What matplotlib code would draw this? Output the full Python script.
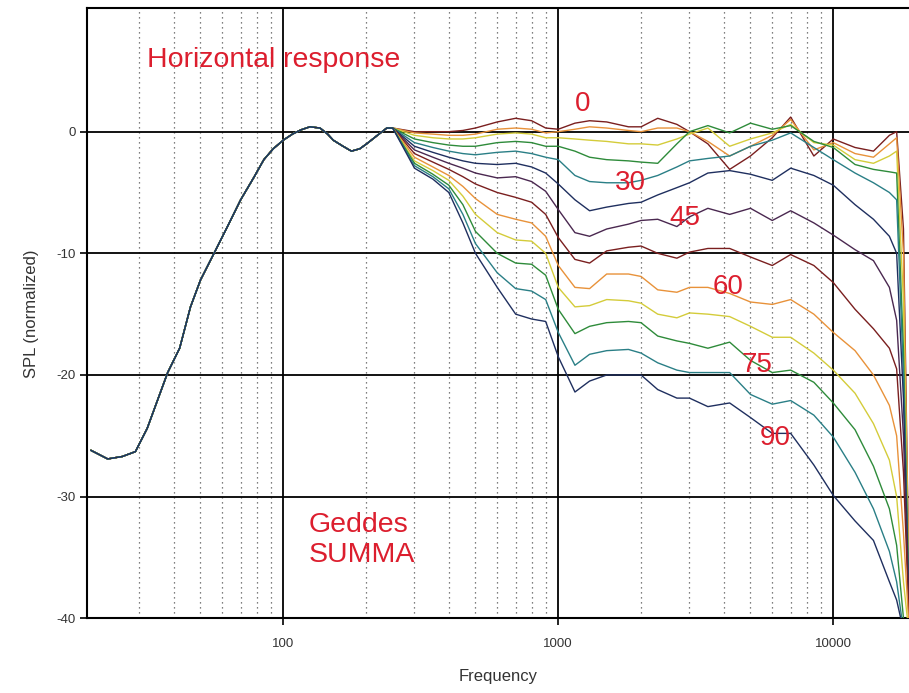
import matplotlib
matplotlib.use('Agg')
import matplotlib.pyplot as plt
import numpy as np
from matplotlib.ticker import FixedLocator, NullFormatter

plt.rcParams['font.family'] = ['Liberation Sans', 'DejaVu Sans']
plt.rcParams['axes.unicode_minus'] = False

# common low-frequency part (all angles identical below ~250 Hz)
LOW_FREQ = [20, 23, 26, 29, 32, 35, 38, 42, 46, 50, 56, 63, 70, 78, 85, 92,
            100, 108, 116, 125, 136, 145, 152, 165, 177, 190, 201, 220, 238]
LOW_SPL = [-26.2, -26.9, -26.7, -26.3, -24.4, -22.0, -19.8, -17.8, -14.4, -12.2,
           -10.0, -7.7, -5.6, -3.8, -2.3, -1.4, -0.7, -0.2, 0.15, 0.4, 0.3,
           -0.2, -0.7, -1.2, -1.6, -1.4, -1.0, -0.3, 0.3]

# off-axis part, one list per angle
HIGH_FREQ = [250, 300, 350, 400, 450, 500, 600, 700, 800, 900, 1000, 1150, 1300,
             1500, 1800, 2000, 2300, 2700, 3000, 3500, 4200, 5000, 6000, 7000,
             8500, 10000, 12000, 14000, 16000, 17000, 18000, 19000]

SPL_00 = [0.3, 0.0, 0.0, 0.0, 0.1, 0.3, 0.8, 1.1, 0.9, 0.3, 0.2, 0.7, 0.9, 0.8, 0.4, 0.4,
          1.1, 0.6, 0.0, -1.0, -3.1, -2.0, -0.5, 1.2, -2.0, -0.6, -1.3, -1.6, -0.3, 0.0, -8, -42]
SPL_07 = [0.3, -0.1, -0.2, -0.3, -0.3, -0.2, 0.2, 0.3, 0.2, -0.1, 0.0, 0.2, 0.4, 0.3, 0.1, 0.0,
          0.3, 0.3, 0.0, -0.8, -2.0, -1.2, -0.3, 1.0, -1.5, -0.9, -1.8, -2.1, -1.0, -0.5, -10, -42]
SPL_15 = [0.3, -0.3, -0.5, -0.6, -0.6, -0.5, -0.2, -0.1, -0.2, -0.5, -0.5, -0.6, -0.7, -0.8, -1.0, -1.0,
          -1.1, -0.6, -0.2, 0.3, -1.2, -0.6, -0.1, 0.6, -0.9, -1.1, -2.3, -2.6, -2.0, -1.6, -14, -42]
SPL_22 = [0.3, -0.6, -0.9, -1.1, -1.2, -1.2, -0.9, -0.8, -0.9, -1.2, -1.2, -1.6, -2.1, -2.3, -2.4, -2.5,
          -2.6, -1.0, 0.0, 0.5, -0.1, 0.7, 0.2, 0.5, -0.8, -1.3, -2.7, -3.1, -3.3, -3.4, -18, -42]
SPL_30 = [0.3, -0.9, -1.3, -1.6, -1.8, -1.9, -1.7, -1.6, -1.8, -2.1, -2.3, -3.6, -4.1, -4.2, -4.2, -4.0,
          -3.6, -2.9, -2.4, -2.2, -2.0, -1.2, -0.7, -0.1, -1.3, -2.3, -3.4, -4.2, -5.0, -5.6, -20, -42]
SPL_37 = [0.3, -1.2, -1.7, -2.1, -2.4, -2.6, -2.7, -2.6, -2.9, -3.4, -4.3, -5.6, -6.5, -6.2, -5.9, -5.8,
          -5.2, -4.6, -4.2, -3.4, -3.2, -3.5, -4.0, -3.0, -3.6, -4.4, -6.0, -7.2, -8.6, -10.0, -22, -42]
SPL_45 = [0.3, -1.5, -2.1, -2.6, -3.0, -3.4, -3.8, -3.7, -4.1, -4.9, -6.4, -8.3, -8.6, -8.0, -7.6, -7.3,
          -7.2, -7.8, -7.0, -6.3, -6.8, -6.3, -7.3, -6.5, -7.5, -8.5, -9.7, -10.6, -12.8, -15.5, -25, -42]
SPL_52 = [0.3, -1.8, -2.5, -3.1, -3.7, -4.3, -5.0, -5.4, -5.8, -6.8, -8.7, -10.5, -10.8, -9.8, -9.5, -9.4,
          -10.0, -10.4, -9.9, -9.6, -9.6, -10.3, -11.0, -10.1, -11.0, -12.4, -14.6, -16.2, -17.8, -19.5, -28, -42]
SPL_60 = [0.3, -2.1, -2.9, -3.6, -4.5, -5.5, -6.8, -7.2, -7.5, -8.6, -11.0, -12.8, -12.9, -11.7, -11.7, -11.9,
          -13.0, -13.2, -12.8, -12.8, -13.3, -14.0, -14.2, -13.8, -15.0, -16.5, -18.0, -20.0, -22.5, -25.0, -33, -42]
SPL_67 = [0.3, -2.4, -3.2, -4.0, -5.3, -6.8, -8.3, -8.9, -9.0, -10.0, -12.8, -14.4, -14.3, -13.8, -13.9, -14.1,
          -15.0, -15.3, -14.9, -15.0, -15.2, -16.0, -16.9, -16.9, -18.2, -19.6, -21.5, -24.0, -27.0, -30.0, -37, -42]
SPL_75 = [0.3, -2.6, -3.5, -4.4, -6.0, -8.2, -10.0, -10.8, -10.9, -11.8, -14.6, -16.6, -16.0, -15.7, -15.6, -15.7,
          -16.8, -17.2, -17.4, -17.8, -17.3, -18.8, -19.8, -19.6, -20.6, -22.3, -24.5, -27.5, -31.0, -34.0, -40, -42]
SPL_82 = [0.3, -2.8, -3.7, -4.7, -6.8, -9.2, -11.6, -12.9, -13.1, -13.8, -16.5, -19.2, -18.3, -18.0, -17.9, -18.2,
          -19.0, -19.6, -19.8, -19.8, -19.8, -21.6, -22.4, -22.1, -23.3, -25.1, -28.0, -31.0, -34.5, -37.0, -41, -42]
SPL_90 = [0.3, -3.0, -3.9, -5.0, -7.5, -10.0, -12.8, -15.0, -15.4, -15.6, -18.5, -21.4, -20.5, -20.0, -20.0, -20.0,
          -21.2, -21.9, -21.9, -22.6, -22.3, -23.5, -24.8, -24.8, -27.4, -29.9, -32.0, -33.6, -37.0, -38.5, -41, -42]

CURVES = [SPL_00, SPL_07, SPL_15, SPL_22, SPL_30, SPL_37, SPL_45,
          SPL_52, SPL_60, SPL_67, SPL_75, SPL_82, SPL_90]
COLORS = ['#7a1f1f', '#e8923a', '#d4cc3a', '#2e8b3a', '#2a7f86', '#1f2f5f', '#4a2850']

ANGLE_LABELS = ['0', '30', '45', '60', '75', '90']
ANGLE_X = [1228, 1822, 2890, 4140, 5270, 6140]
ANGLE_Y = [2.3, -4.2, -7.1, -12.8, -19.2, -25.2]

RED = '#dc1e2e'

fig = plt.figure(figsize=(9.09, 6.93), dpi=100)
ax = fig.add_axes([0.0960, 0.1078, 0.904, 0.8802])

for i, spl in enumerate(CURVES):
    f = np.concatenate([LOW_FREQ, HIGH_FREQ])
    y = np.concatenate([LOW_SPL, spl])
    ax.plot(f, y, color=COLORS[i % len(COLORS)], lw=1.0, zorder=3)

ax.set_xscale('log')
ax.set_xlim(19.38, 18853)
ax.set_ylim(-40, 10.14)

ax.set_xticks([100, 1000, 10000])
ax.set_xticklabels(['100', '1000', '10000'])
minor = [m * 10 ** d for d in (1, 2, 3, 4) for m in range(2, 10) if 25 < m * 10 ** d < 18853]
ax.xaxis.set_minor_locator(FixedLocator(minor))
ax.xaxis.set_minor_formatter(NullFormatter())
ax.set_yticks([-40, -30, -20, -10, 0])

ax.grid(which='major', color='black', lw=1.3, zorder=1)
ax.grid(which='minor', axis='x', color='#555555', ls=(0, (1, 3)), lw=0.9, zorder=1)
ax.tick_params(which='major', length=5, width=1.2, color='black',
               labelsize=9.5, labelcolor='#333333')
ax.tick_params(axis='x', which='major', pad=9)
ax.tick_params(which='minor', length=0)

for s in ['left', 'top', 'bottom']:
    ax.spines[s].set_linewidth(1.5)
ax.spines['right'].set_visible(False)

ax.set_xlabel('Frequency', fontsize=12, color='#333333', labelpad=14)
ax.set_ylabel('SPL (normalized)', fontsize=12, color='#333333', labelpad=12)

ax.text(31.9, 5.9, 'Horizontal response', color=RED, fontsize=20.5,
        ha='left', va='center', zorder=5)
ax.text(124, -33.6, 'Geddes\nSUMMA', color=RED, fontsize=20.5,
        ha='left', va='center', linespacing=1.2, zorder=5)
for lab, x, y in zip(ANGLE_LABELS, ANGLE_X, ANGLE_Y):
    ax.text(x, y, lab, color=RED, fontsize=20, ha='center', va='center', zorder=5)

fig.savefig('out.png', dpi=100)
